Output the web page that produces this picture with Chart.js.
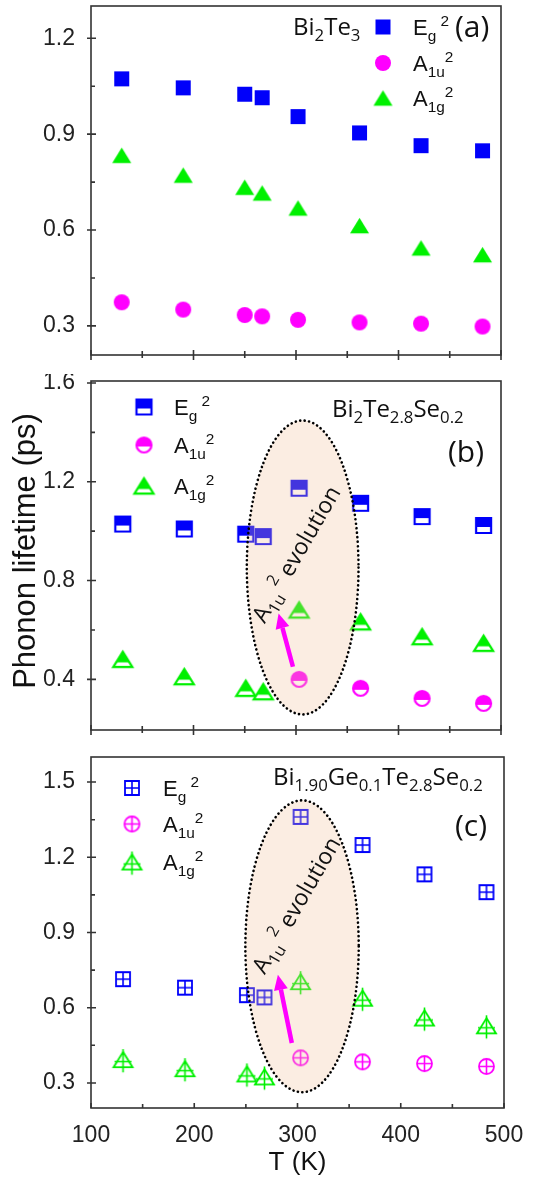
<!doctype html>
<html lang="en">
  <head>
    <meta charset="utf-8" />
    <title>Phonon lifetime</title>
    <script src="https://cdn.jsdelivr.net/npm/chart.js@4/dist/chart.umd.min.js"></script>
    <style>
      body { margin: 0; background: #fff; }
      #wrap { position: relative; width: 552px; height: 1180px; }
      canvas { position: absolute; left: 0; }
    </style>
  </head>
  <body>
    <div id="wrap">
      <canvas id="chartA" width="552" height="380" style="top:0px"></canvas>
      <canvas id="chartB" width="552" height="382" style="top:374px"></canvas>
      <canvas id="chartC" width="552" height="430" style="top:750px"></canvas>
    </div>
    <script>
      // ---- data ----
      const tempA = [130, 190, 250, 267, 302, 362, 422, 482];
      const egA = [1.073, 1.045, 1.025, 1.014, 0.955, 0.904, 0.864, 0.848];
      const a1uA = [0.374, 0.351, 0.334, 0.33, 0.319, 0.311, 0.307, 0.298];
      const a1gA = [0.834, 0.772, 0.734, 0.716, 0.669, 0.614, 0.544, 0.523];

      const tempB = [131, 191, 251, 268, 303, 363, 423, 483];
      const egB = [1.029, 1.009, 0.988, 0.978, 1.174, 1.113, 1.059, 1.023];
      const a1uB = [null, null, null, null, 0.4, 0.364, 0.323, 0.303];
      const a1gB = [0.481, 0.411, 0.364, 0.35, 0.681, 0.633, 0.573, 0.546];

      const tempC = [131, 191, 251, 268, 303, 363, 423, 483];
      const egC = [0.714, 0.68, 0.65, 0.641, 1.361, 1.249, 1.132, 1.061];
      const a1uC = [null, null, null, null, 0.4, 0.384, 0.377, 0.366];
      const a1gC = [0.393, 0.357, 0.336, 0.324, 0.704, 0.638, 0.559, 0.528];

      const xMajor = [100, 200, 300, 400, 500];
      const xMinor = [150, 250, 350, 450];
      const yMajorA = [0.3, 0.6, 0.9, 1.2];
      const yMinorA = [0.45, 0.75, 1.05];
      const yMajorB = [0.4, 0.8, 1.2, 1.6];
      const yMinorB = [0.6, 1.0, 1.4];
      const yMajorC = [0.3, 0.6, 0.9, 1.2, 1.5];
      const yMinorC = [0.45, 0.75, 1.05, 1.35];

      const BLUE = "rgb(0,0,250)";
      const MAGENTA = "rgb(255,0,255)";
      const GREEN = "rgb(0,240,0)";
      const SANS = "'Liberation Sans', Arial, sans-serif";
      const LABEL = "'Open Sans', sans-serif";

      // ---- marker images ----
      function marker(shape, mode, color, s) {
        const n = Math.ceil(s + 12);
        const c = document.createElement("canvas");
        c.width = n;
        c.height = n;
        const g = c.getContext("2d");
        g.translate(n / 2, n / 2);
        const path = () => {
          g.beginPath();
          if (shape === "square") g.rect(-s / 2, -s / 2, s, s);
          else if (shape === "circle") g.arc(0, 0, s / 2, 0, Math.PI * 2);
          else {
            g.moveTo(0, -s * 0.45);
            g.lineTo(s * 0.56, s * 0.45);
            g.lineTo(-s * 0.56, s * 0.45);
            g.closePath();
          }
        };
        g.fillStyle = color;
        g.strokeStyle = color;
        if (mode === "solid") {
          path();
          g.fill();
        } else if (mode === "half") {
          g.fillStyle = "#fff";
          path();
          g.fill();
          g.save();
          g.beginPath();
          g.rect(-n / 2, -n / 2, n, n / 2 + s * (shape === "triangle" ? 0.18 : 0.1));
          g.clip();
          g.fillStyle = color;
          path();
          g.fill();
          g.restore();
          g.lineWidth = 2.2;
          path();
          g.stroke();
        } else {
          g.fillStyle = "#fff";
          path();
          g.fill();
          g.lineWidth = 1.8;
          path();
          g.stroke();
          g.lineWidth = 1.6;
          g.beginPath();
          if (shape === "triangle") {
            g.moveTo(0, -s * 0.62);
            g.lineTo(0, s * 0.75);
            g.moveTo(-s * 0.5, s * 0.12);
            g.lineTo(s * 0.5, s * 0.12);
          } else {
            g.moveTo(0, -s / 2);
            g.lineTo(0, s / 2);
            g.moveTo(-s / 2, 0);
            g.lineTo(s / 2, 0);
          }
          g.stroke();
        }
        return c;
      }

      const mk = {
        a: [marker("square", "solid", BLUE, 15), marker("circle", "solid", MAGENTA, 16), marker("triangle", "solid", GREEN, 17)],
        b: [marker("square", "half", BLUE, 15), marker("circle", "half", MAGENTA, 15), marker("triangle", "half", GREEN, 17)],
        c: [marker("square", "cross", BLUE, 14), marker("circle", "cross", MAGENTA, 15), marker("triangle", "cross", GREEN, 17)],
      };

      // ---- rich text (sub/superscripts) ----
      function richWidth(ctx, segs, size, family) {
        let w = 0;
        segs.forEach(([t, k]) => {
          const fs = k === "n" ? size : size * 0.7;
          ctx.font = fs + "px " + family;
          w += ctx.measureText(t).width;
        });
        return w;
      }
      function drawRich(ctx, x, y, segs, size, family) {
        ctx.textBaseline = "alphabetic";
        ctx.textAlign = "left";
        segs.forEach(([t, k]) => {
          const fs = k === "n" ? size : size * 0.7;
          const dy = k === "sub" ? size * 0.26 : k === "sup" ? -size * 0.42 : 0;
          ctx.font = fs + "px " + family;
          ctx.fillText(t, x, y + dy);
          x += ctx.measureText(t).width;
        });
      }

      const legendText = [
        [["E", "n"], ["g", "sub"], [" 2", "sup"]],
        [["A", "n"], ["1u", "sub"], ["2", "sup"]],
        [["A", "n"], ["1g", "sub"], ["2", "sup"]],
      ];
      const evoText = [["A", "n"], ["1u", "sub"], [" 2", "sup"], [" evolution", "n"]];

      function decor(opt) {
        return {
          id: "decor",
          afterDatasetsDraw(chart) {
            const { ctx, scales: { x, y } } = chart;
            if (!opt.ellipse) return;
            const e = opt.ellipse;
            const cx = x.getPixelForValue((e.x0 + e.x1) / 2);
            const cy = y.getPixelForValue((e.y0 + e.y1) / 2);
            const rx = Math.abs(x.getPixelForValue(e.x1) - x.getPixelForValue(e.x0)) / 2;
            const ry = Math.abs(y.getPixelForValue(e.y1) - y.getPixelForValue(e.y0)) / 2;
            ctx.save();
            ctx.beginPath();
            ctx.ellipse(cx, cy, rx, ry, 0, 0, Math.PI * 2);
            ctx.fillStyle = "rgba(242,190,150,0.28)";
            ctx.fill();
            ctx.setLineDash([0.1, 4.4]);
            ctx.lineCap = "round";
            ctx.lineWidth = 2.6;
            ctx.strokeStyle = "#000";
            ctx.stroke();
            ctx.restore();

            // arrow
            const a = opt.arrow;
            const x1 = x.getPixelForValue(a.x0), y1 = y.getPixelForValue(a.y0);
            const x2 = x.getPixelForValue(a.x1), y2 = y.getPixelForValue(a.y1);
            const ang = Math.atan2(y2 - y1, x2 - x1);
            const hl = 15, hw = 7;
            const bx = x2 - hl * Math.cos(ang), by = y2 - hl * Math.sin(ang);
            ctx.save();
            ctx.strokeStyle = MAGENTA;
            ctx.fillStyle = MAGENTA;
            ctx.lineWidth = 4.5;
            ctx.beginPath();
            ctx.moveTo(x1, y1);
            ctx.lineTo(bx, by);
            ctx.stroke();
            ctx.beginPath();
            ctx.moveTo(x2, y2);
            ctx.lineTo(bx + hw * Math.sin(ang), by - hw * Math.cos(ang));
            ctx.lineTo(bx - hw * Math.sin(ang), by + hw * Math.cos(ang));
            ctx.closePath();
            ctx.fill();
            ctx.restore();

            // rotated label
            ctx.save();
            ctx.translate(opt.evo[0], opt.evo[1]);
            ctx.rotate((-60 * Math.PI) / 180);
            ctx.fillStyle = "#111";
            const w = richWidth(ctx, evoText, 23, LABEL);
            drawRich(ctx, -w / 2, 8, evoText, 23, LABEL);
            ctx.restore();
          },
          afterDraw(chart) {
            const { ctx, chartArea: ca, scales: { x, y } } = chart;
            ctx.save();
            ctx.strokeStyle = "#333";
            ctx.lineWidth = 1.6;
            ctx.strokeRect(ca.left, ca.top, ca.right - ca.left, ca.bottom - ca.top);
            ctx.beginPath();
            xMajor.forEach((v) => {
              const px = x.getPixelForValue(v);
              ctx.moveTo(px, ca.bottom - 5);
              ctx.lineTo(px, ca.bottom + (opt.xOut ? 5 : 0));
            });
            xMinor.forEach((v) => {
              const px = x.getPixelForValue(v);
              ctx.moveTo(px, ca.bottom - 4);
              ctx.lineTo(px, ca.bottom + (opt.xOut ? 3 : 0));
            });
            opt.yMajor.forEach((v) => {
              const py = y.getPixelForValue(v);
              ctx.moveTo(ca.left - 4, py);
              ctx.lineTo(ca.left + 5, py);
            });
            opt.yMinor.forEach((v) => {
              const py = y.getPixelForValue(v);
              ctx.moveTo(ca.left, py);
              ctx.lineTo(ca.left + 4, py);
            });
            ctx.stroke();

            // legend
            ctx.fillStyle = "#111";
            opt.markers.forEach((m, i) => {
              ctx.drawImage(m, opt.legend.sx - m.width / 2, opt.legend.sy[i] - m.height / 2);
              drawRich(ctx, opt.legend.tx, opt.legend.ty[i], legendText[i], 22, SANS);
            });
            drawRich(ctx, opt.compound.x, opt.compound.y, opt.compound.segs, 24, LABEL);
            ctx.font = "30px " + LABEL;
            ctx.fillText(opt.tag.text, opt.tag.x, opt.tag.y);

            if (opt.yTitle) {
              ctx.save();
              ctx.translate(opt.yTitle[0], opt.yTitle[1]);
              ctx.rotate(-Math.PI / 2);
              ctx.font = "31px " + SANS;
              ctx.textAlign = "center";
              ctx.textBaseline = "middle";
              ctx.fillText("Phonon lifetime (ps)", 0, 0);
              ctx.restore();
            }
            if (opt.xTitle) {
              ctx.font = "26px " + SANS;
              ctx.textAlign = "center";
              ctx.textBaseline = "middle";
              ctx.fillText("T (K)", opt.xTitle[0], opt.xTitle[1]);
            }
            ctx.restore();
          },
        };
      }

      function makeChart(id, temps, eg, a1u, a1g, markers, yMin, yMax, yMajor, pad, xHeight, showX, opt) {
        const pts = (vals) => temps.map((t, i) => ({ x: t, y: vals[i] }));
        opt.markers = markers;
        opt.yMajor = yMajor;
        return new Chart(document.getElementById(id), {
          type: "scatter",
          data: {
            datasets: [
              { data: pts(eg), pointStyle: markers[0] },
              { data: pts(a1u), pointStyle: markers[1] },
              { data: pts(a1g), pointStyle: markers[2] },
            ],
          },
          options: {
            responsive: false,
            animation: false,
            events: [],
            layout: { padding: pad },
            plugins: { legend: { display: false }, tooltip: { enabled: false } },
            scales: {
              x: {
                min: 100,
                max: 500,
                grid: { display: false },
                border: { display: false },
                afterBuildTicks: (s) => { s.ticks = xMajor.map((v) => ({ value: v })); },
                afterFit: (s) => { s.height = xHeight; s.paddingLeft = 0; s.paddingRight = 0; },
                ticks: {
                  display: showX,
                  padding: 6,
                  color: "#222",
                  font: { family: SANS, size: 23 },
                },
              },
              y: {
                min: yMin,
                max: yMax,
                grid: { display: false },
                border: { display: false },
                afterBuildTicks: (s) => { s.ticks = yMajor.map((v) => ({ value: v })); },
                afterFit: (s) => { s.width = 91; s.paddingTop = 0; s.paddingBottom = 0; },
                ticks: {
                  padding: 8,
                  color: "#222",
                  font: { family: SANS, size: 23 },
                  callback: (v) => v.toFixed(1),
                },
              },
            },
          },
          plugins: [decor(opt)],
        });
      }

      makeChart("chartA", tempA, egA, a1uA, a1gA, mk.a, 0.209, 1.301, yMajorA,
        { top: 6, right: 51, left: 0, bottom: 0 }, 25, false, {
          xOut: true,
          yMinor: yMinorA,
          legend: { sx: 383, sy: [27, 63, 98], tx: 413, ty: [35, 71, 106] },
          compound: { x: 293, y: 35, segs: [["Bi", "n"], ["2", "sub"], ["Te", "n"], ["3", "sub"]] },
          tag: { text: "(a)", x: 455, y: 37 },
        });

      makeChart("chartB", tempB, egB, a1uB, a1gB, mk.b, 0.195, 1.608, yMajorB,
        { top: 7, right: 51, left: 0, bottom: 0 }, 26, false, {
          xOut: true,
          yMinor: yMinorB,
          legend: { sx: 144, sy: [33, 71, 112], tx: 174, ty: [41, 79, 120] },
          compound: { x: 332, y: 43, segs: [["Bi", "n"], ["2", "sub"], ["Te", "n"], ["2.8", "sub"], ["Se", "n"], ["0.2", "sub"]] },
          tag: { text: "(b)", x: 448, y: 88 },
          ellipse: { x0: 252, x1: 361, y0: 0.258, y1: 1.448 },
          arrow: { x0: 297, y0: 0.451, x1: 283, y1: 0.667 },
          evo: [296, 180],
          yTitle: [26, 177],
        });

      makeChart("chartC", tempC, egC, a1uC, a1gC, mk.c, 0.2, 1.6, yMajorC,
        { top: 7, right: 48, left: 0, bottom: 0 }, 72, true, {
          xOut: false,
          yMinor: yMinorC,
          legend: { sx: 132, sy: [38, 74, 112], tx: 163, ty: [46, 82, 120] },
          compound: { x: 273, y: 35, segs: [["Bi", "n"], ["1.90", "sub"], ["Ge", "n"], ["0.1", "sub"], ["Te", "n"], ["2.8", "sub"], ["Se", "n"], ["0.2", "sub"]] },
          tag: { text: "(c)", x: 455, y: 86 },
          ellipse: { x0: 249.5, x1: 359.3, y0: 0.263, y1: 1.427 },
          arrow: { x0: 294.5, y0: 0.459, x1: 281, y1: 0.731 },
          evo: [296, 155],
          xTitle: [297.5, 413],
        });
    </script>
  </body>
</html>
